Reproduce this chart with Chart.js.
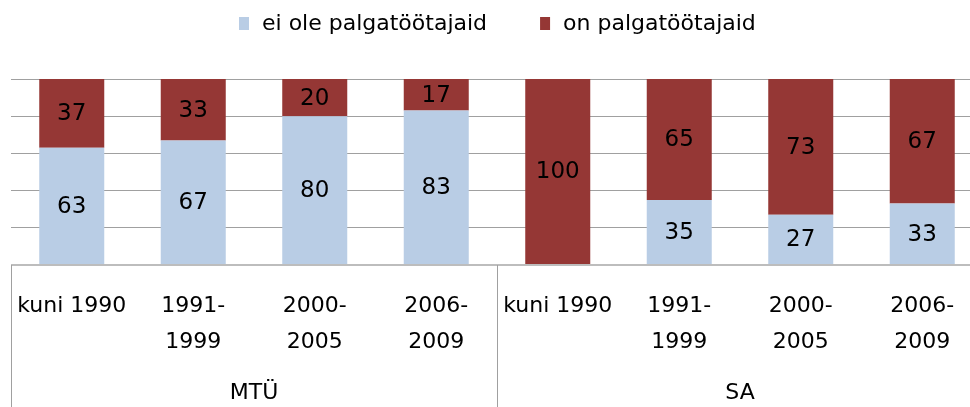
<!DOCTYPE html>
<html>
<head>
<meta charset="utf-8">
<script src="https://cdn.jsdelivr.net/npm/chart.js@4.4.1/dist/chart.umd.min.js"></script>
<style>
  html, body { margin: 0; padding: 0; background: #fff; overflow: hidden; }
  #wrap { width: 990px; height: 407px; }
</style>
</head>
<body>
<div id="wrap"><canvas id="c" width="990" height="407"></canvas></div>
<script>
// categories and groups
const periods = [['kuni 1990'], ['1991-', '1999'], ['2000-', '2005'], ['2006-', '2009'],
                 ['kuni 1990'], ['1991-', '1999'], ['2000-', '2005'], ['2006-', '2009']];
const groups = ['MTÜ', 'SA'];
const groupSize = 4;

// series (%)
const noEmployees = [63, 67, 80, 83, 0, 35, 27, 33];
const hasEmployees = [37, 33, 20, 17, 100, 65, 73, 67];
const seriesNames = ['ei ole palgatöötajaid', 'on palgatöötajaid'];

const FONT = 'DejaVu Sans';

// values inside the bar segments
const segmentLabels = {
  id: 'segmentLabels',
  afterDatasetsDraw(chart) {
    const ctx = chart.ctx;
    ctx.save();
    ctx.font = `23px "${FONT}"`;
    ctx.fillStyle = '#000';
    ctx.textAlign = 'center';
    ctx.textBaseline = 'middle';
    chart.data.datasets.forEach((ds, di) => {
      chart.getDatasetMeta(di).data.forEach((bar, i) => {
        const v = ds.data[i];
        if (!v) return;
        ctx.fillText(String(v), bar.x, (bar.y + bar.base) / 2 + 1);
      });
    });
    ctx.restore();
  }
};

// legend at top + group labels and separators below the axis
const extras = {
  id: 'extras',
  afterDraw(chart) {
    const ctx = chart.ctx;
    const x = chart.scales.x;
    const area = chart.chartArea;
    ctx.save();

    // legend
    ctx.font = `22px "${FONT}"`;
    ctx.textBaseline = 'middle';
    ctx.textAlign = 'left';
    let lx = 239;
    chart.data.datasets.forEach(ds => {
      ctx.fillStyle = ds.backgroundColor;
      ctx.fillRect(lx, 17, 10, 13);
      ctx.fillStyle = '#000';
      ctx.fillText(ds.label, lx + 23, 24);
      lx += 23 + ctx.measureText(ds.label).width + 53;
    });

    // separators between groups
    ctx.strokeStyle = '#a0a0a0';
    ctx.lineWidth = 1;
    const bounds = [area.left];
    for (let g = 1; g <= groups.length; g++) {
      const last = g * groupSize - 1;
      bounds.push(last + 1 < periods.length
        ? (x.getPixelForValue(last) + x.getPixelForValue(last + 1)) / 2
        : area.right);
    }
    bounds.forEach(bx => {
      const px = Math.round(bx) + 0.5;
      ctx.beginPath();
      ctx.moveTo(px, area.bottom);
      ctx.lineTo(px, chart.height);
      ctx.stroke();
    });

    // group names
    ctx.fillStyle = '#000';
    ctx.textAlign = 'center';
    groups.forEach((name, g) => {
      const a = x.getPixelForValue(g * groupSize);
      const b = x.getPixelForValue(g * groupSize + groupSize - 1);
      ctx.fillText(name, (a + b) / 2, 393);
    });
    ctx.restore();
  }
};

new Chart(document.getElementById('c'), {
  type: 'bar',
  data: {
    labels: periods,
    datasets: [
      { label: seriesNames[0], data: noEmployees, backgroundColor: '#b9cde5' },
      { label: seriesNames[1], data: hasEmployees, backgroundColor: '#953735' }
    ]
  },
  options: {
    responsive: false,
    animation: false,
    layout: { padding: { top: 79, left: 11, right: 7, bottom: 0 } },
    datasets: { bar: { categoryPercentage: 1, barPercentage: 0.535 } },
    plugins: { legend: { display: false }, tooltip: { enabled: false } },
    scales: {
      x: {
        stacked: true,
        grid: { display: false, drawTicks: false },
        border: { display: false },
        ticks: {
          color: '#000',
          font: { family: FONT, size: 22, lineHeight: 1.6 },
          padding: 24,
          maxRotation: 0,
          autoSkip: false
        },
        afterFit(s) { s.height = 142; s.paddingLeft = 0; s.paddingRight = 0; }
      },
      y: {
        stacked: true,
        min: 0,
        max: 100,
        ticks: { display: false, stepSize: 20 },
        grid: {
          drawTicks: false,
          color: c => c.tick.value === 0 ? '#bdbdbd' : '#a0a0a0',
          lineWidth: c => c.tick.value === 0 ? 2 : 1
        },
        border: { display: false },
        afterFit(s) { s.width = 0; }
      }
    }
  },
  plugins: [segmentLabels, extras]
});
</script>
</body>
</html>
